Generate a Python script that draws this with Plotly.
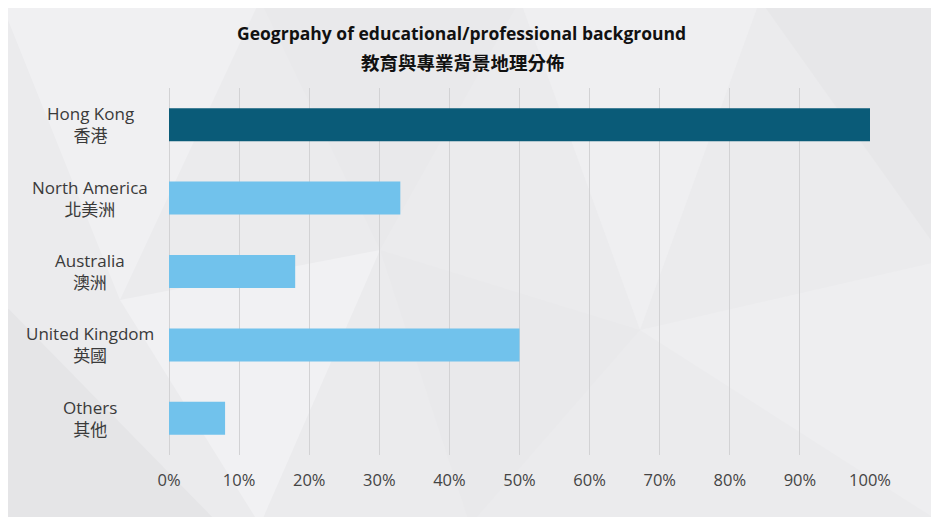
import plotly.graph_objects as go

categories_en = ["Hong Kong", "North America", "Australia", "United Kingdom", "Others"]
categories_zh = ["香港", "北美洲", "澳洲", "英國", "其他"]
values = [100, 33, 18, 50, 8]
bar_colors = ["#0a5b78", "#71c2ec", "#71c2ec", "#71c2ec", "#71c2ec"]
tick_vals = [0, 10, 20, 30, 40, 50, 60, 70, 80, 90, 100]
tick_text = [f"{v}%" for v in tick_vals]

OFF = 8  # page body margin
W, H = 939 - OFF, 517 - OFF
L, T = 169 - OFF, 88 - OFF
R = W - (870 - OFF)
B = H - (455 - OFF)
pw, ph = W - L - R, H - T - B

def px_x(x):
    return (x - OFF - L) / pw

def px_y(y):
    return (H - B - (y - OFF)) / ph

fig = go.Figure()
fig.add_trace(go.Bar(
    x=values, y=categories_en, orientation="h",
    marker=dict(color=bar_colors, line=dict(width=0)),
    width=0.45, hoverinfo="x+y",
))

shapes = []
# faint low-poly decoration
polys = [
    ([(0, 0), (260, 0), (120, 300)], "#f0f0f2"),
    ([(260, 0), (520, 0), (380, 250)], "#e9e9eb"),
    ([(520, 0), (760, 0), (640, 330)], "#efeff1"),
    ([(760, 0), (945, 0), (945, 260)], "#e7e7e9"),
    ([(0, 300), (220, 525), (0, 525)], "#e5e5e7"),
    ([(380, 250), (640, 330), (470, 525)], "#e9e9eb"),
    ([(640, 330), (945, 260), (945, 525)], "#eeeef0"),
    ([(120, 300), (380, 250), (260, 525)], "#f1f1f3"),
]
for pts, col in polys:
    path = "M " + " L ".join(f"{px_x(x)},{px_y(y)}" for x, y in pts) + " Z"
    shapes.append(dict(type="path", xref="paper", yref="paper", path=path,
                       fillcolor=col, line=dict(width=0), layer="below"))

annotations = [
    dict(text="<b>Geogrpahy of educational/professional background</b>",
         xref="paper", yref="paper", x=px_x(461), y=px_y(33),
         showarrow=False, xanchor="center", yanchor="middle",
         font=dict(family="Open Sans, Noto Sans", size=17.5, color="#111111")),
    dict(text="<b>教育與專業背景地理分佈</b>",
         xref="paper", yref="paper", x=px_x(463), y=px_y(62),
         showarrow=False, xanchor="center", yanchor="middle",
         font=dict(family="Noto Sans CJK TC", size=18.5, color="#111111")),
]
for en, zh in zip(categories_en, categories_zh):
    annotations.append(dict(
        text=f"{en}<br>{zh}", xref="paper", yref="y", x=px_x(90), y=en,
        showarrow=False, xanchor="center", yanchor="middle", align="center",
        font=dict(family="Open Sans, Noto Sans CJK TC", size=17, color="#3a3a3a"),
    ))

fig.update_layout(
    width=W, height=H,
    margin=dict(l=L, r=R, t=T, b=B, pad=0),
    paper_bgcolor="#ebebed", plot_bgcolor="rgba(0,0,0,0)",
    showlegend=False,
    shapes=shapes, annotations=annotations,
    xaxis=dict(range=[0, 100], tickvals=tick_vals, ticktext=tick_text,
               showgrid=True, gridcolor="#d2d2d4", gridwidth=1,
               zeroline=True, zerolinecolor="#d2d2d4", zerolinewidth=1,
               showline=False, ticks="", ticklabelstandoff=13,
               tickfont=dict(family="Open Sans, Noto Sans", size=16.5, color="#444444"),
               fixedrange=True),
    yaxis=dict(autorange="reversed", showticklabels=False, showgrid=False,
               zeroline=False, showline=False, ticks="", fixedrange=True),
)

fig.write_html("out.html")
